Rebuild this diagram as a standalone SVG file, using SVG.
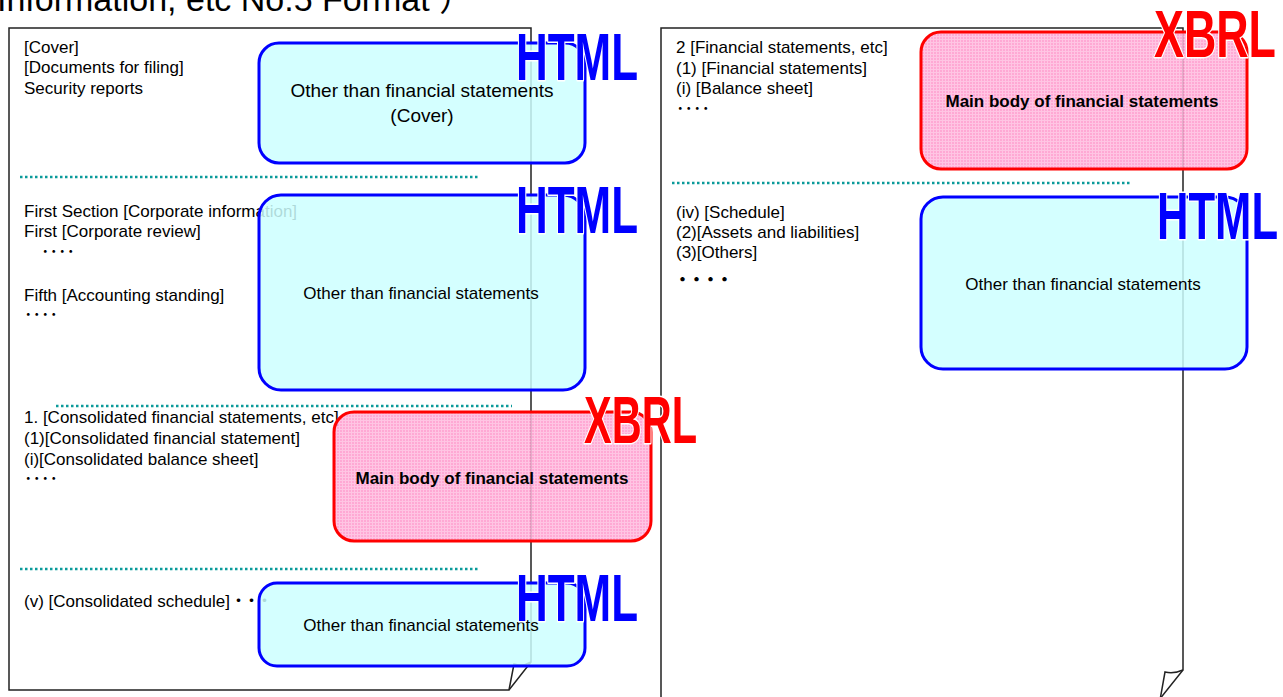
<svg xmlns="http://www.w3.org/2000/svg" width="1283" height="697" viewBox="0 0 1283 697">
<style>
.pg{fill:none;stroke:#222;stroke-width:1.5;stroke-linejoin:miter}
.dv{stroke:#0a9a9a;stroke-width:2.5;stroke-dasharray:2.5 2.5;fill:none}
.t{font-family:"Liberation Sans",Arial,"Noto Sans CJK JP",sans-serif;font-size:17px;fill:#000}
.d{font-family:"Noto Sans CJK JP",sans-serif;font-size:17px;fill:#000}
.c{text-anchor:middle}
.b{font-weight:bold}
.hb{fill:#CCFFFF;fill-opacity:.85;stroke:#0000FF;stroke-width:3}
.xb{fill:url(#pk);fill-opacity:.85;stroke:#FF0000;stroke-width:3}
.lbl{font-family:"Liberation Sans",Arial,sans-serif;font-weight:bold;font-size:66px;stroke:#fff;stroke-width:3;paint-order:stroke;stroke-linejoin:round}
.html{fill:#0000FF}
.xbrl{fill:#FF0000}
</style>
<defs>
<pattern id="pk" width="3" height="3" patternUnits="userSpaceOnUse">
<rect width="3" height="3" fill="#FF9ACC"/>
<path d="M0 0.5H3M0.5 0V3" stroke="#FFBBDE" stroke-width="1"/>
</pattern>
</defs>
<rect width="1283" height="697" fill="#fff"/>
<text class="t" x="-3" y="11" style="font-size:34px">Information, etc No.5 Format ）</text>

<g id="page-left">
<path class="pg" d="M9 28H531V662L509 690H9Z"/>
<path class="pg" d="M531 662Q523 667 514 664L509 690"/>
</g>
<g id="page-right">
<path class="pg" d="M661 700V28H1183V670L1159 700"/>
<path class="pg" d="M1183 670Q1174 674 1165 672L1160 700"/>
</g>

<g id="dividers">
<line class="dv" x1="20" y1="177" x2="479" y2="177"/>
<line class="dv" x1="56" y1="406" x2="512" y2="406"/>
<line class="dv" x1="20" y1="569" x2="479" y2="569"/>
<line class="dv" x1="672" y1="183" x2="1130" y2="183"/>
</g>

<g id="left-texts">
<text class="t" x="24" y="53">[Cover]</text>
<text class="t" x="24" y="73">[Documents for filing]</text>
<text class="t" x="24" y="94">Security reports</text>
<text class="t" x="24" y="217">First Section [Corporate information]</text>
<text class="t" x="24" y="237">First [Corporate review]</text>
<text class="d" x="41" y="258">････</text>
<text class="t" x="24" y="301">Fifth [Accounting standing]</text>
<text class="d" x="24" y="321">････</text>
<text class="t" x="24" y="423">1. [Consolidated financial statements, etc]</text>
<text class="t" x="24" y="444">(1)[Consolidated financial statement]</text>
<text class="t" x="24" y="465">(i)[Consolidated balance sheet]</text>
<text class="d" x="24" y="485">････</text>
<text class="t" x="24" y="607">(v) [Consolidated schedule]<tspan class="d" letter-spacing="-4">・・・</tspan></text>
</g>

<g id="right-texts">
<text class="t" x="676" y="53">2 [Financial statements, etc]</text>
<text class="t" x="676" y="74">(1) [Financial statements]</text>
<text class="t" x="676" y="94">(i) [Balance sheet]</text>
<text class="d" x="676" y="115">････</text>
<text class="t" x="676" y="218">(iv) [Schedule]</text>
<text class="t" x="676" y="238">(2)[Assets and liabilities]</text>
<text class="t" x="676" y="258">(3)[Others]</text>
<text class="d b" x="674" y="286" letter-spacing="-3">・・・・</text>
</g>

<g id="node-cover-html">
<rect class="hb" x="259" y="43" width="326" height="120" rx="20"/>
<text class="t c" x="422" y="97" style="font-size:19px">Other than financial statements</text>
<text class="t c" x="422" y="122" style="font-size:19px">(Cover)</text>
</g>
<g id="node-corporate-html">
<rect class="hb" x="259" y="195" width="326" height="195" rx="22"/>
<text class="t c" x="421" y="299">Other than financial statements</text>
</g>
<g id="node-consolidated-xbrl">
<rect class="xb" x="334" y="412" width="317" height="129" rx="20"/>
<text class="t c b" x="492" y="484">Main body of financial statements</text>
</g>
<g id="node-schedule-html">
<rect class="hb" x="259" y="583" width="326" height="83" rx="18"/>
<text class="t c" x="421" y="631">Other than financial statements</text>
</g>
<g id="node-financial-xbrl">
<rect class="xb" x="921" y="32" width="326" height="137" rx="20"/>
<text class="t c b" x="1082" y="107">Main body of financial statements</text>
</g>
<g id="node-others-html">
<rect class="hb" x="921" y="197" width="326" height="172" rx="22"/>
<text class="t c" x="1083" y="290">Other than financial statements</text>
</g>

<g id="labels">
<text class="lbl html" x="516" y="80" textLength="122" lengthAdjust="spacingAndGlyphs">HTML</text>
<text class="lbl html" x="516" y="233" textLength="122" lengthAdjust="spacingAndGlyphs">HTML</text>
<text class="lbl html" x="516" y="621" textLength="122" lengthAdjust="spacingAndGlyphs">HTML</text>
<text class="lbl html" x="1157" y="239" textLength="121" lengthAdjust="spacingAndGlyphs">HTML</text>
<text class="lbl xbrl" x="584" y="443" textLength="113" lengthAdjust="spacingAndGlyphs">XBRL</text>
<text class="lbl xbrl" x="1154" y="57" textLength="122" lengthAdjust="spacingAndGlyphs">XBRL</text>
</g>
</svg>
